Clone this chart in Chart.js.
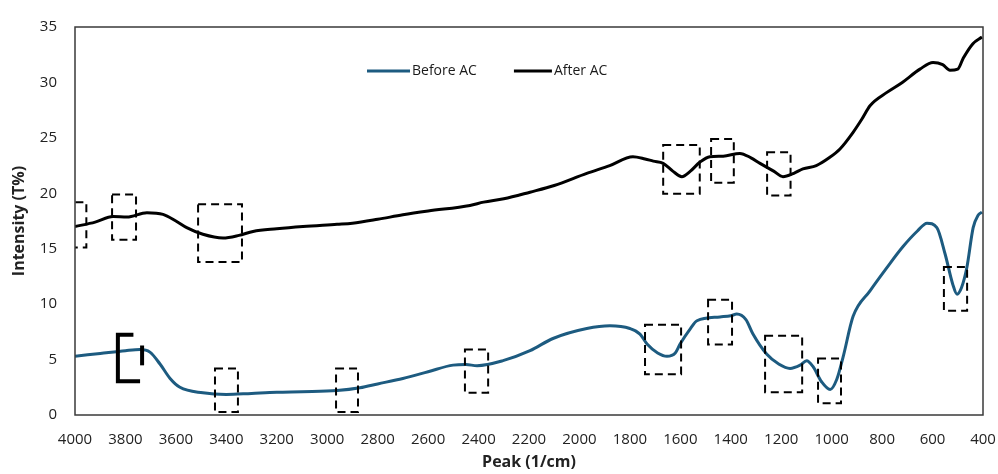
<!DOCTYPE html>
<html>
<head>
<meta charset="utf-8">
<script src="https://cdn.jsdelivr.net/npm/chart.js@4/dist/chart.umd.min.js"></script>
<style>
html,body{margin:0;padding:0;background:#fff;}
#wrap{width:998px;height:474px;position:relative;}
</style>
</head>
<body>
<div id="wrap"><canvas id="c" width="998" height="474"></canvas></div>
<script>
// ---- data (wavenumber in 1/cm, intensity in T%) ----
const beforeWave = [4000,3900,3800,3742,3703,3663,3623,3584,3493,3400,3300,3200,3100,2961,2870,2800,2700,2600,2501,2450,2406,2303,2196,2105,1971,1879,1800,1760,1732,1690,1653,1620,1601,1560,1534,1443,1400,1376,1340,1312,1258,1210,1165,1125,1099,1075,1040,1006,980,955,915,848,781,717,660,622,583,550,520,503,485,464,439,420,404];
const beforeVal  = [5.3,5.55,5.8,5.9,5.67,4.6,3.3,2.5,2.0,1.85,1.95,2.05,2.1,2.2,2.45,2.8,3.3,3.9,4.5,4.55,4.45,4.9,5.8,6.9,7.8,8.05,7.8,7.3,6.4,5.6,5.3,5.6,6.4,7.8,8.5,8.85,8.95,9.1,8.6,7.3,5.5,4.6,4.2,4.5,4.9,4.4,3.0,2.3,3.2,5.2,8.9,11.2,13.3,15.2,16.6,17.3,16.9,14.5,11.8,10.9,11.5,13.3,16.9,18.0,18.3];

const afterWave = [4000,3920,3849,3794,3715,3651,3600,3557,3493,3413,3350,3294,3200,3096,2961,2900,2800,2700,2600,2434,2380,2300,2196,2100,1971,1880,1788,1740,1707,1668,1630,1594,1560,1523,1483,1430,1364,1320,1284,1230,1193,1150,1114,1061,1010,967,915,880,848,781,720,650,598,560,531,500,478,440,404];
const afterVal  = [17.0,17.4,17.9,17.85,18.25,18.1,17.5,16.9,16.3,15.96,16.2,16.56,16.8,17.0,17.2,17.3,17.65,18.06,18.4,18.9,19.2,19.5,20.1,20.7,21.8,22.5,23.3,23.1,22.9,22.7,22.0,21.5,22.0,22.8,23.3,23.35,23.6,23.2,22.7,22.0,21.5,21.8,22.2,22.5,23.2,24.0,25.5,26.7,27.9,29.1,30.0,31.2,31.8,31.6,31.1,31.2,32.2,33.5,34.1];

const seriesLabels = ['Before AC','After AC'];
const xTickValues = [4000,3800,3600,3400,3200,3000,2800,2600,2400,2200,2000,1800,1600,1400,1200,1000,800,600,400];
const yTickValues = [0,5,10,15,20,25,30,35];

// highlighted peak regions: [wave from, wave to, intensity top, intensity bottom]
const peakBoxes = [
  [4050,3955,19.2,15.1],
  [3853,3758,19.9,15.8],
  [3512,3338,19.0,13.8],
  [1668,1523,24.35,19.95],
  [1478,1388,24.9,20.95],
  [1256,1163,23.7,19.8],
  [3445,3354,4.2,0.27],
  [2965,2878,4.2,0.27],
  [2454,2362,5.9,2.0],
  [1740,1597,8.15,3.67],
  [1490,1395,10.4,6.36],
  [1264,1117,7.16,2.06],
  [1054,963,5.1,1.07],
  [555,463,13.35,9.4]
];
// bold bracket region near 3800: [wave left, wave right, top, bottom], plus the right bar [wave, top, bottom]
const bracketBox = [3830,3742,7.25,3.05];
const bracketBar = [3734,6.27,4.48];

const FONT = "'Open Sans', 'Noto Sans', sans-serif";

function pts(w, v){ return w.map((x,i)=>({x:x, y:v[i]})); }

const overlay = {
  id:'overlay',
  afterDatasetsDraw(chart){
    const {ctx, chartArea:a, scales:{x, y}} = chart;
    ctx.save();
    ctx.beginPath();
    ctx.rect(a.left, a.top, a.right-a.left, a.bottom-a.top);
    ctx.clip();
    ctx.strokeStyle = '#000';
    ctx.lineWidth = 2;
    ctx.setLineDash([8,5]);
    peakBoxes.forEach(b=>{
      const x1 = x.getPixelForValue(b[0]), x2 = x.getPixelForValue(b[1]);
      const y1 = y.getPixelForValue(b[2]), y2 = y.getPixelForValue(b[3]);
      ctx.strokeRect(x1, y1, x2-x1, y2-y1);
    });
    // bold bracket
    ctx.setLineDash([]);
    ctx.lineWidth = 4;
    const bx1 = x.getPixelForValue(bracketBox[0]), bx2 = x.getPixelForValue(bracketBox[1]);
    const by1 = y.getPixelForValue(bracketBox[2]), by2 = y.getPixelForValue(bracketBox[3]);
    ctx.beginPath();
    ctx.moveTo(bx1 + (bx2-bx1)*0.7, by1);
    ctx.lineTo(bx1, by1);
    ctx.lineTo(bx1, by2);
    ctx.lineTo(bx2, by2);
    ctx.stroke();
    ctx.beginPath();
    const rx = x.getPixelForValue(bracketBar[0]);
    ctx.moveTo(rx, y.getPixelForValue(bracketBar[1]));
    ctx.lineTo(rx, y.getPixelForValue(bracketBar[2]));
    ctx.stroke();
    ctx.restore();
  },
  afterDraw(chart){
    const {ctx, chartArea:a} = chart;
    ctx.save();
    // frame
    ctx.strokeStyle = '#3a3a3a';
    ctx.lineWidth = 1.5;
    ctx.strokeRect(a.left, a.top, a.right-a.left, a.bottom-a.top);
    // legend inside plot area
    ctx.font = "14px " + FONT;
    ctx.textBaseline = 'middle';
    ctx.fillStyle = '#1a1a1a';
    let lx = a.left + 292;
    const ly = a.top + 44;
    chart.data.datasets.forEach((ds,i)=>{
      const len = i===0 ? 43 : 38;
      ctx.strokeStyle = ds.borderColor;
      ctx.lineWidth = 3;
      ctx.beginPath();
      ctx.moveTo(lx, ly); ctx.lineTo(lx+len, ly); ctx.stroke();
      ctx.fillText(ds.label, lx+len+2, ly);
      lx += len + 2 + ctx.measureText(ds.label).width + 37;
    });
    ctx.restore();
  }
};

new Chart(document.getElementById('c'), {
  type:'line',
  data:{
    datasets:[
      {label:seriesLabels[0], data:pts(beforeWave,beforeVal), borderColor:'#1d5b80', borderWidth:3, pointRadius:0, cubicInterpolationMode:'monotone', fill:false},
      {label:seriesLabels[1], data:pts(afterWave,afterVal), borderColor:'#000000', borderWidth:3, pointRadius:0, cubicInterpolationMode:'monotone', fill:false}
    ]
  },
  options:{
    responsive:false,
    animation:false,
    layout:{padding:{top:24,right:0,left:0,bottom:0}},
    plugins:{legend:{display:false}, tooltip:{enabled:false}},
    scales:{
      x:{
        type:'linear', reverse:true, min:400, max:4000,
        afterBuildTicks(s){ s.ticks = xTickValues.map(v=>({value:v})); },
        afterFit(s){ s.height = 59; s.paddingLeft = 0; s.paddingRight = 15; },
        grid:{display:false, drawTicks:false},
        border:{display:false},
        ticks:{autoSkip:false, maxRotation:0, padding:16, color:'#222', font:{family:FONT, size:15}, callback:(v)=>String(v)},
        title:{display:true, text:'Peak (1/cm)', color:'#222', font:{family:FONT, size:16, weight:'bold'}, padding:{top:0,bottom:2}}
      },
      y:{
        min:0, max:35,
        afterBuildTicks(s){ s.ticks = yTickValues.map(v=>({value:v})); },
        afterFit(s){ s.width = 75; },
        grid:{display:false, drawTicks:false},
        border:{display:false},
        ticks:{padding:18, color:'#222', font:{family:FONT, size:15}, callback:(v)=>String(v)},
        title:{display:true, text:'Intensity (T%)', color:'#222', font:{family:FONT, size:16, weight:'bold'}, padding:{top:10,bottom:0}}
      }
    }
  },
  plugins:[overlay]
});
</script>
</body>
</html>
